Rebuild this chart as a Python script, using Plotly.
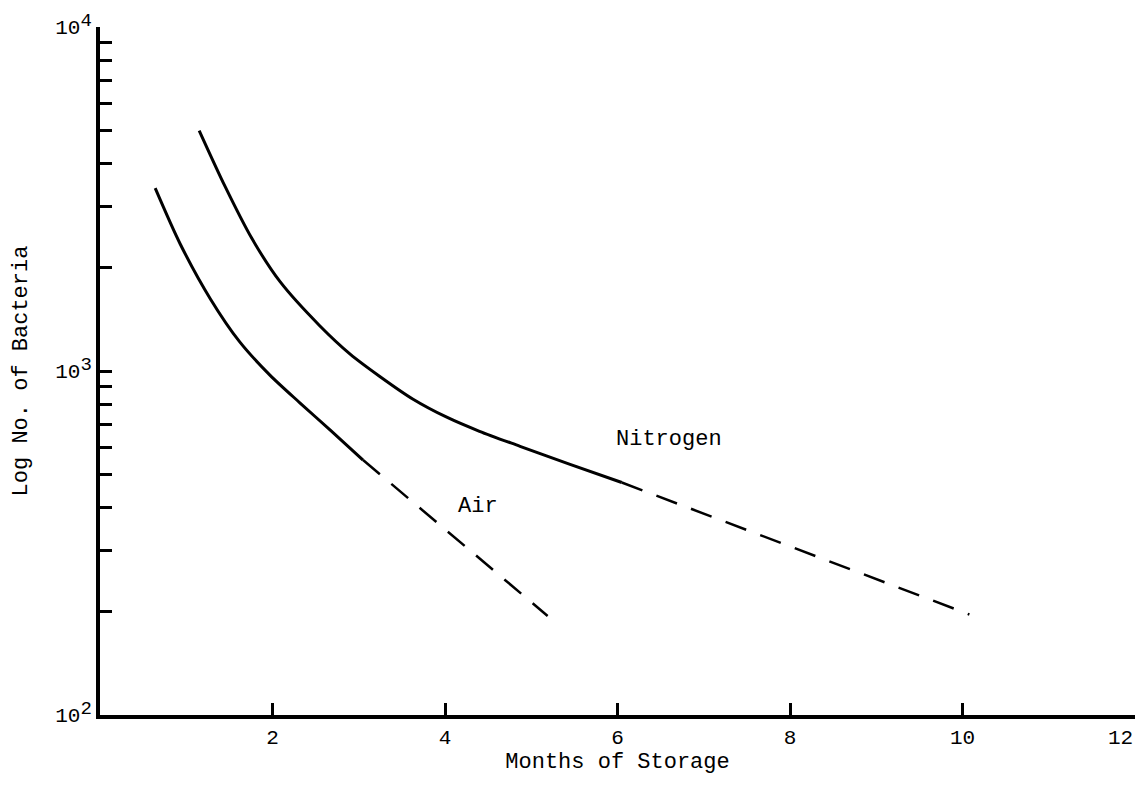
"""Bacterial counts during storage under air and nitrogen."""

import plotly.graph_objects as go

FONT = "Liberation Mono, Courier New, monospace"

# Air: measured (solid) then extrapolated (dashed)
air_months = [0.64, 0.93, 1.28, 1.62, 1.97, 2.32, 2.67, 3.05]
air_counts = [3400, 2340, 1620, 1215, 973, 807, 673, 551]
air_ext_months = [3.05, 5.19]
air_ext_counts = [551, 194]

# Nitrogen: measured (solid) then extrapolated (dashed)
n2_months = [1.15, 1.45, 1.76, 2.09, 2.55, 2.90, 3.24, 3.63, 4.02, 4.40, 4.87, 5.45, 6.05]
n2_counts = [5000, 3440, 2430, 1815, 1352, 1120, 966, 828, 734, 668, 604, 535, 474]
n2_ext_months = [6.05, 10.08]
n2_ext_counts = [474, 196]

x_ticks = [2, 4, 6, 8, 10, 12]
x_text = ["2", "4", "6", "8", "10", ""]
y_ticks = [m * 10 ** e for e in (2, 3) for m in range(1, 10)] + [10000]
y_text = ["" for _ in y_ticks]
sup = "10<sup><span style='font-size:19px'>{}</span></sup>"
y_text[0] = sup.format(2)
y_text[9] = sup.format(3)
y_text[-1] = sup.format(4)

solid = dict(color="black", width=3)
dashed = dict(color="black", width=2.5, dash="22px,15px")

fig = go.Figure()
fig.add_trace(go.Scatter(x=air_months, y=air_counts, mode="lines",
                         line=dict(shape="spline", smoothing=0.8, **solid), name="Air"))
fig.add_trace(go.Scatter(x=air_ext_months, y=air_ext_counts, mode="lines",
                         line=dashed, name="Air (extrapolated)"))
fig.add_trace(go.Scatter(x=n2_months, y=n2_counts, mode="lines",
                         line=dict(shape="spline", smoothing=0.8, **solid), name="Nitrogen"))
fig.add_trace(go.Scatter(x=n2_ext_months, y=n2_ext_counts, mode="lines",
                         line=dashed, name="Nitrogen (extrapolated)"))

fig.add_annotation(x=6.6, y=2.80, text="Nitrogen", showarrow=False,
                   font=dict(family=FONT, size=22, color="black"))
fig.add_annotation(x=4.38, y=2.606, text="Air", showarrow=False,
                   font=dict(family=FONT, size=22, color="black"))
# last x tick label sits left of its tick so it stays inside the page
fig.add_annotation(x=12, y=0, yref="paper", text="12", showarrow=False,
                   xanchor="right", yanchor="top", xshift=0, yshift=-10,
                   font=dict(family=FONT, size=21, color="black"))

tick_font = dict(family=FONT, size=21, color="black")
title_font = dict(family=FONT, size=22, color="black")

fig.update_layout(
    width=1127,
    height=773,
    showlegend=False,
    plot_bgcolor="white",
    paper_bgcolor="white",
    margin=dict(l=92, r=0, t=19, b=66, autoexpand=False),
    font=dict(family=FONT, size=20, color="black"),
    xaxis=dict(
        range=[0, 12],
        tickvals=x_ticks,
        ticktext=x_text,
        tickfont=tick_font,
        ticklabeloverflow="allow",
        ticks="inside",
        ticklen=12,
        tickwidth=2.5,
        tickcolor="black",
        showline=True,
        linewidth=4,
        linecolor="black",
        showgrid=False,
        zeroline=False,
        title=dict(text="Months of Storage", standoff=4, font=title_font),
    ),
    yaxis=dict(
        type="log",
        range=[2, 4],
        tickvals=y_ticks,
        ticktext=y_text,
        tickfont=tick_font,
        ticklabeloverflow="allow",
        ticks="inside",
        ticklen=12,
        tickwidth=2.5,
        tickcolor="black",
        showline=True,
        linewidth=4,
        linecolor="black",
        showgrid=False,
        zeroline=False,
        title=dict(text="Log No. of Bacteria", standoff=22, font=title_font),
    ),
)

fig.write_html("out.html")
